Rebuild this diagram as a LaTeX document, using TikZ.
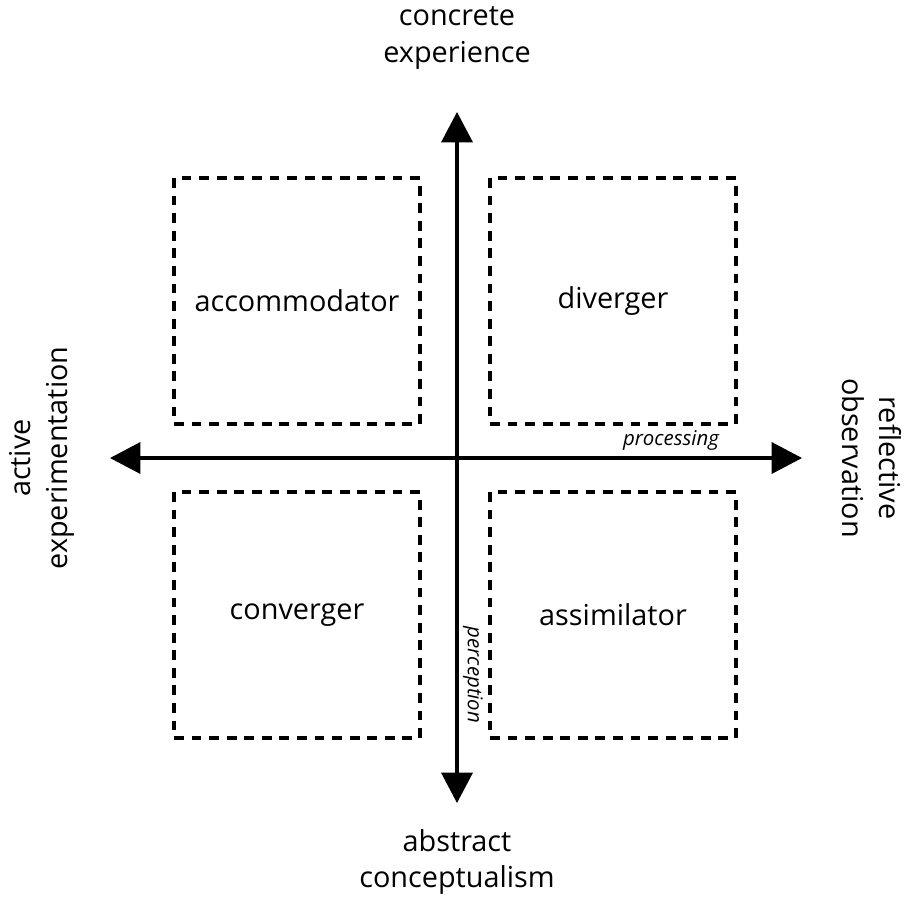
\documentclass[tikz,border=0pt]{standalone}
\usepackage{fontspec}
\setmainfont{Open Sans}
\usetikzlibrary{arrows.meta}

\tikzset{
  quad/.style={draw, line width=2.2pt, dash pattern=on 7pt off 5.5pt,
    minimum width=6.15cm, minimum height=6.15cm, font=\fontsize{20.5}{26}\selectfont},
  ax/.style={line width=2.2pt, {Triangle[width=0.78cm,length=0.76cm]}-{Triangle[width=0.78cm,length=0.76cm]}},
  pole/.style={align=center, font=\fontsize{20.5}{26}\selectfont},
  tag/.style={font=\fontsize{14.5}{17}\selectfont\itshape}
}

\begin{document}
\begin{tikzpicture}[x=0.025cm,y=-0.025cm]
\useasboundingbox (0,0) rectangle (918,901);

\node[quad] (acc) at (297,301) {accommodator};
\node[quad] (div) at (613,301) {diverger};
\node[quad] (con) at (297,615) {converger};
\node[quad] (ass) at (613,615) {assimilator};

\coordinate (N) at (457,112);
\coordinate (S) at (457,803);
\coordinate (W) at (110,458);
\coordinate (E) at (802,458);

\draw[ax] (W) -- (E);
\draw[ax] (S) -- (N);

\node[pole] (ce) at (457,38) {concrete\\experience};
\node[pole] (ac) at (457,862) {abstract\\conceptualism};
\node[pole, rotate=90] (ae) at (42,458) {active\\experimentation};
\node[pole, rotate=-90] (ro) at (872,458) {reflective\\observation};

\node[tag] (pr) at (671,440) {processing};
\node[tag, rotate=-90] (pe) at (473,675) {perception};
\end{tikzpicture}
\end{document}
